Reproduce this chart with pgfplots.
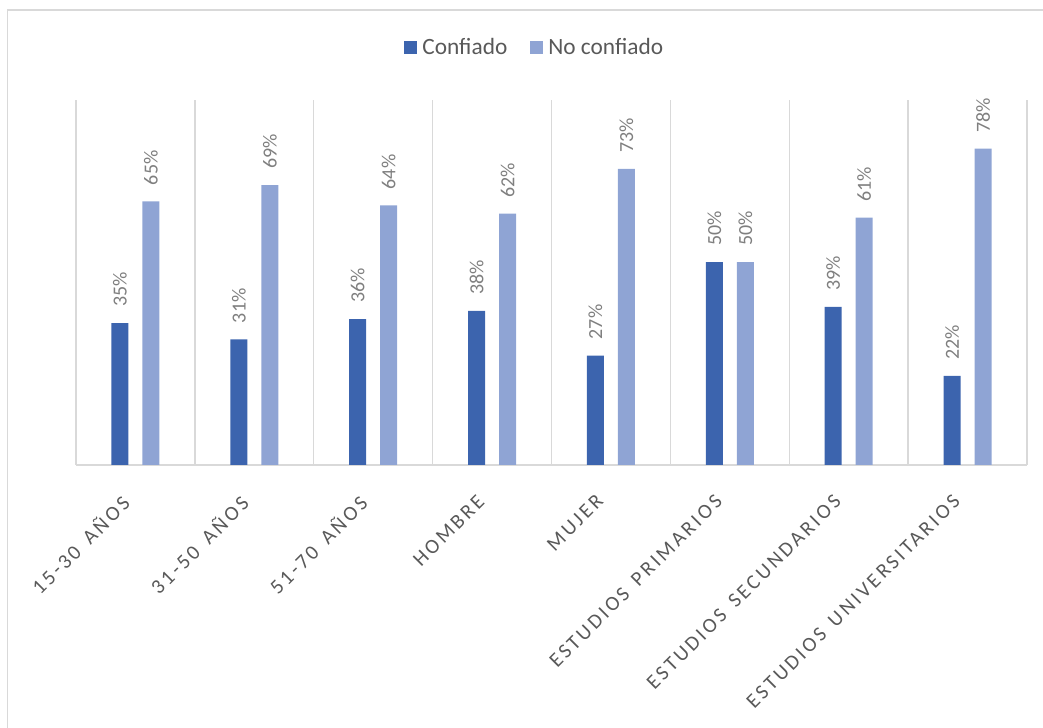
\documentclass[border=0pt]{standalone}
\usepackage{pgfplots}
\pgfplotsset{compat=1.18}
\usepackage{fontspec}
\setmainfont{Carlito}
\newfontfamily\spaced[LetterSpace=14,WordSpace=1.5]{Carlito}
\definecolor{conf}{HTML}{3C64AE}
\definecolor{noconf}{HTML}{8FA4D4}
\definecolor{gridc}{HTML}{D9D9D9}
\definecolor{txt}{HTML}{595959}
\definecolor{lab}{HTML}{7F7F7F}
\begin{document}
\begin{tikzpicture}
\path[use as bounding box] (0,0) rectangle (782.25pt,546pt);
\draw[gridc, line width=1.1pt] (5.6pt,0) -- (5.6pt,538.5pt) -- (782.25pt,538.5pt);
\begin{axis}[
  at={(57pt,197.25pt)}, anchor=south west,
  scale only axis, width=713.25pt, height=273.75pt,
  xmin=-0.5, xmax=7.5, ymin=0, ymax=90,
  ybar=10.5pt, bar width=12.75pt,
  axis y line=none,
  axis x line*=bottom,
  x axis line style={gridc, line width=1.1pt, -},
  xtick={0,...,7},
  xtick style={draw=none},
  minor xtick={-0.5,0.5,...,7.5},
  minor tick length=0pt,
  xminorgrids=true,
  minor grid style={gridc, line width=1.1pt},
  xticklabels={15-30 AÑOS, 31-50 AÑOS, 51-70 AÑOS, HOMBRE, MUJER, ESTUDIOS PRIMARIOS, ESTUDIOS SECUNDARIOS, ESTUDIOS UNIVERSITARIOS},
  xticklabel style={font=\spaced\fontsize{15.5}{17}\selectfont, text=txt, xshift=-12pt, yshift=-14pt, rotate=45, anchor=north east, inner sep=2pt},
  nodes near coords={\pgfmathprintnumber[assume math mode=true]{\pgfplotspointmeta}\%},
  every node near coord/.append style={rotate=90, anchor=west, font=\fontsize{15}{17}\selectfont, text=lab, inner xsep=12pt, inner ysep=0pt},
  legend style={at={(0.484,1.145)}, anchor=center, draw=none, fill=none, legend columns=2, font=\fontsize{17.5}{19}\selectfont, text=txt, nodes={inner xsep=4pt}, /tikz/every even column/.append style={column sep=13pt}},
  legend image code/.code={\fill[#1] (0pt,-4.9pt) rectangle (9.75pt,4.9pt);},
]
\addplot[fill=conf, draw=none] coordinates {(0,35) (1,31) (2,36) (3,38) (4,27) (5,50) (6,39) (7,22)};
\addplot[fill=noconf, draw=none] coordinates {(0,65) (1,69) (2,64) (3,62) (4,73) (5,50) (6,61) (7,78)};
\legend{Confiado, No confiado}
\end{axis}
\end{tikzpicture}
\end{document}
